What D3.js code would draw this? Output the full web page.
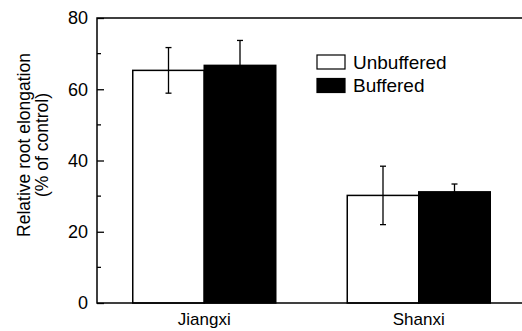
<!DOCTYPE html>
<html>
<head>
<meta charset="utf-8">
<script src="https://cdn.jsdelivr.net/npm/d3@7"></script>
<style>
  html, body { margin: 0; padding: 0; background: #fff; }
  svg { display: block; font-family: "Liberation Sans", Arial, sans-serif; }
</style>
</head>
<body>
<svg id="chart" width="522" height="331"></svg>
<script>
// Sites and treatment series
const sites = ["Jiangxi", "Shanxi"];
const series = ["Unbuffered", "Buffered"];
const seriesFill = ["#ffffff", "#000000"];

// Mean relative root elongation (% of control) per site, by series
const unbufferedMean = [65.3, 30.2];
const bufferedMean = [66.7, 31.2];
// Error bar half-widths
const unbufferedErr = [6.4, 8.2];
const bufferedErr = [7.0, 2.2];

const yTicks = [0, 20, 40, 60, 80];
const yMinorTicks = [10, 30, 50, 70];

const svg = d3.select("#chart");
const plotLeft = 97, plotRight = 526, plotTop = 18, plotBottom = 303;

const y = d3.scaleLinear().domain([0, 80]).range([plotBottom, plotTop]);
const x = d3.scaleBand().domain(sites).range([plotLeft, plotRight])
  .paddingInner(1 / 3).paddingOuter(1 / 6);
const xs = d3.scaleBand().domain(series).range([0, x.bandwidth()]).padding(0);

const rows = sites.map((s, i) => [
  { site: s, key: series[0], v: unbufferedMean[i], e: unbufferedErr[i], fill: seriesFill[0] },
  { site: s, key: series[1], v: bufferedMean[i], e: bufferedErr[i], fill: seriesFill[1] }
]).flat();

// Bars
svg.append("g").selectAll("rect").data(rows).join("rect")
  .attr("x", d => x(d.site) + xs(d.key))
  .attr("y", d => y(d.v))
  .attr("width", xs.bandwidth())
  .attr("height", d => y(0) - y(d.v))
  .attr("fill", d => d.fill)
  .attr("stroke", "#000")
  .attr("stroke-width", 1.5);

// Error bars
const eb = svg.append("g").attr("stroke", "#000").attr("stroke-width", 1.3);
rows.forEach(d => {
  const cx = x(d.site) + xs(d.key) + xs.bandwidth() / 2;
  const y1 = y(d.v + d.e), y0 = y(d.v - d.e);
  eb.append("line").attr("x1", cx).attr("x2", cx).attr("y1", y1).attr("y2", y0);
  eb.append("line").attr("x1", cx - 3).attr("x2", cx + 3).attr("y1", y1).attr("y2", y1);
  eb.append("line").attr("x1", cx - 3).attr("x2", cx + 3).attr("y1", y0).attr("y2", y0);
});

// Frame
svg.append("rect")
  .attr("x", plotLeft).attr("y", plotTop)
  .attr("width", plotRight - plotLeft).attr("height", plotBottom - plotTop)
  .attr("fill", "none").attr("stroke", "#000").attr("stroke-width", 1.5);

// Y axis with inward ticks
const yAxis = svg.append("g")
  .attr("transform", `translate(${plotLeft},0)`)
  .call(d3.axisLeft(y).tickValues(yTicks).tickSize(-7).tickPadding(9).tickFormat(d3.format("d")));
yAxis.select(".domain").remove();
yAxis.selectAll(".tick line").attr("stroke", "#000").attr("stroke-width", 1.3);
yAxis.selectAll(".tick text")
  .attr("font-size", 18).attr("fill", "#000")
  .attr("font-family", "Liberation Sans, Arial, sans-serif");

svg.append("g").selectAll("line").data(yMinorTicks).join("line")
  .attr("x1", plotLeft).attr("x2", plotLeft + 4)
  .attr("y1", d => y(d)).attr("y2", d => y(d))
  .attr("stroke", "#000").attr("stroke-width", 1.3);

// X category labels
svg.append("g").selectAll("text").data(sites).join("text")
  .attr("x", d => x(d) + x.bandwidth() / 2)
  .attr("y", 324.5)
  .attr("text-anchor", "middle")
  .attr("font-size", 17)
  .text(d => d);

// Y axis title
const title = svg.append("text")
  .attr("transform", "translate(0,145) rotate(-90)")
  .attr("text-anchor", "middle")
  .attr("font-size", 17.5);
title.append("tspan").attr("x", 0).attr("y", 30).text("Relative root elongation");
title.append("tspan").attr("x", 0).attr("y", 48).text("(% of control)");

// Legend
const legend = svg.append("g");
series.forEach((s, i) => {
  const ly = 55 + i * 23.5;
  legend.append("rect")
    .attr("x", 317).attr("y", ly).attr("width", 28).attr("height", 14)
    .attr("fill", seriesFill[i]).attr("stroke", "#000").attr("stroke-width", 1.2);
  legend.append("text")
    .attr("x", 353).attr("y", ly + 13.5)
    .attr("font-size", 19)
    .text(s);
});
</script>
</body>
</html>
